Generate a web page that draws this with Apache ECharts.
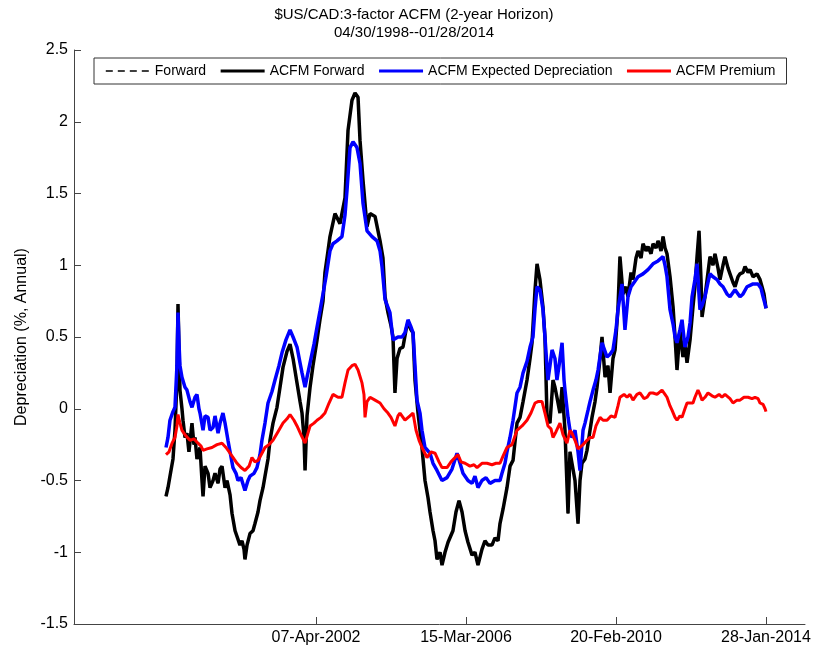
<!DOCTYPE html>
<html>
<head>
<meta charset="utf-8">
<script src="https://cdn.jsdelivr.net/npm/echarts@6/dist/echarts.min.js"></script>
<style>html,body{margin:0;padding:0;background:#fff}#c{width:828px;height:652px}</style>
</head>
<body>
<div id="c"></div>
<script>
// x values: days since 30-Apr-1998
const tickDays = [1438, 2876, 4314, 5752];
const tickLabels = ['07-Apr-2002', '15-Mar-2006', '20-Feb-2010', '28-Jan-2014'];
const seriesNames = ['Forward', 'ACFM Forward', 'ACFM Expected Depreciation', 'ACFM Premium'];

const acfmForward = [
[0,-0.61],[19,-0.55],[38,-0.47],[67,-0.35],[86,-0.15],[105,0.2],[115,0.73],[125,0.4],[134,0.13],[153,0.0],
[163,-0.08],[182,-0.2],[201,-0.17],[220,-0.3],[249,-0.1],[268,-0.25],[278,-0.2],[297,-0.35],[326,-0.27],[345,-0.5],
[355,-0.61],[374,-0.4],[403,-0.45],[422,-0.55],[451,-0.5],[470,-0.45],[499,-0.52],[518,-0.42],[537,-0.4],[566,-0.55],
[585,-0.5],[614,-0.6],[633,-0.73],[662,-0.85],[681,-0.89],[709,-0.95],[729,-0.92],[748,-0.98],[757,-1.05],[777,-0.95],
[805,-0.87],[834,-0.85],[853,-0.8],[882,-0.72],[901,-0.64],[930,-0.55],[949,-0.47],[978,-0.35],[997,-0.22],[1026,-0.1],
[1064,0.01],[1093,0.15],[1122,0.29],[1160,0.4],[1189,0.45],[1218,0.35],[1256,0.18],[1285,0.05],[1304,-0.03],[1323,-0.2],
[1333,-0.43],[1352,-0.05],[1381,0.15],[1409,0.3],[1448,0.48],[1476,0.62],[1505,0.75],[1524,0.95],[1553,1.1],[1572,1.2],
[1620,1.36],[1668,1.29],[1716,1.47],[1745,1.94],[1783,2.15],[1812,2.2],[1841,2.17],[1860,1.87],[1889,1.59],[1927,1.27],
[1956,1.36],[2004,1.34],[2052,1.17],[2080,1.05],[2100,0.78],[2128,0.67],[2157,0.58],[2176,0.5],[2195,0.11],[2215,0.35],
[2243,0.42],[2272,0.43],[2301,0.55],[2320,0.6],[2349,0.55],[2368,0.53],[2387,0.2],[2416,-0.03],[2435,-0.15],[2454,-0.27],
[2483,-0.5],[2512,-0.62],[2531,-0.72],[2560,-0.85],[2579,-0.92],[2598,-1.05],[2627,-1.0],[2646,-1.09],[2675,-1.0],[2704,-0.93],
[2723,-0.92],[2751,-0.85],[2780,-0.72],[2809,-0.64],[2838,-0.72],[2867,-0.85],[2895,-0.93],[2934,-1.02],[2962,-1.0],[2991,-1.09],
[3029,-0.98],[3058,-0.92],[3087,-0.95],[3125,-0.95],[3154,-0.9],[3183,-0.92],[3202,-0.8],[3231,-0.7],[3269,-0.55],[3298,-0.4],
[3327,-0.36],[3365,-0.1],[3394,-0.06],[3423,0.05],[3461,0.2],[3490,0.35],[3509,0.46],[3538,0.83],[3557,1.01],[3585,0.9],
[3614,0.71],[3633,0.5],[3653,-0.06],[3681,-0.1],[3710,0.2],[3729,0.15],[3748,0.08],[3777,-0.03],[3797,0.15],[3825,-0.15],
[3854,-0.73],[3873,-0.3],[3892,-0.38],[3921,-0.5],[3950,-0.8],[3969,-0.5],[3988,-0.38],[4017,-0.35],[4036,-0.29],[4065,-0.15],
[4084,-0.06],[4113,0.05],[4132,0.15],[4161,0.35],[4180,0.5],[4209,0.22],[4237,0.3],[4257,0.11],[4285,0.35],[4305,0.41],
[4333,0.7],[4352,1.06],[4381,0.8],[4410,0.85],[4429,0.78],[4458,0.95],[4477,0.9],[4506,1.05],[4525,1.1],[4554,1.05],
[4573,1.15],[4602,1.1],[4621,1.13],[4650,1.08],[4669,1.15],[4698,1.12],[4717,1.17],[4746,1.1],[4765,1.2],[4784,1.12],
[4803,1.08],[4832,0.92],[4861,0.71],[4880,0.5],[4899,0.27],[4927,0.55],[4956,0.36],[4975,0.45],[4995,0.32],[5024,0.48],
[5052,0.71],[5071,0.85],[5091,1.06],[5110,1.24],[5129,0.9],[5139,0.64],[5167,0.78],[5196,0.95],[5215,1.06],[5244,1.0],
[5263,1.08],[5292,0.98],[5311,0.9],[5340,1.0],[5359,1.06],[5388,0.98],[5407,0.94],[5436,0.88],[5455,0.85],[5484,0.92],
[5503,0.94],[5532,0.95],[5551,0.99],[5580,0.95],[5599,0.97],[5628,0.92],[5666,0.94],[5695,0.9],[5714,0.85],[5733,0.8],
[5752,0.7]
];

const expectedDepreciation = [
[0,-0.27],[19,-0.2],[38,-0.08],[67,-0.02],[86,0.01],[105,0.3],[115,0.67],[125,0.45],[134,0.3],[153,0.22],
[182,0.15],[201,0.13],[230,0.05],[249,0.01],[278,0.08],[297,0.1],[316,0.0],[326,-0.03],[355,-0.15],[374,-0.05],
[403,-0.06],[422,-0.15],[451,-0.13],[470,-0.05],[499,-0.17],[518,-0.1],[546,-0.03],[566,-0.1],[594,-0.22],[614,-0.3],
[642,-0.41],[671,-0.45],[690,-0.5],[719,-0.48],[757,-0.57],[786,-0.5],[805,-0.47],[844,-0.45],[872,-0.41],[901,-0.32],
[920,-0.22],[949,-0.1],[978,0.04],[1016,0.12],[1045,0.2],[1083,0.3],[1112,0.39],[1150,0.48],[1189,0.55],[1218,0.5],
[1256,0.43],[1285,0.32],[1304,0.25],[1333,0.15],[1352,0.22],[1381,0.32],[1419,0.45],[1448,0.57],[1476,0.68],[1505,0.8],
[1534,0.92],[1572,1.1],[1601,1.15],[1639,1.17],[1687,1.2],[1716,1.35],[1735,1.52],[1764,1.82],[1793,1.86],[1831,1.82],
[1860,1.71],[1889,1.43],[1927,1.24],[1975,1.2],[2023,1.17],[2052,1.1],[2071,0.99],[2100,0.76],[2147,0.67],[2176,0.48],
[2224,0.5],[2263,0.5],[2291,0.53],[2320,0.62],[2349,0.57],[2368,0.53],[2387,0.3],[2406,0.06],[2435,-0.03],[2454,-0.15],
[2483,-0.27],[2531,-0.31],[2560,-0.38],[2598,-0.43],[2646,-0.5],[2694,-0.48],[2742,-0.42],[2790,-0.31],[2819,-0.38],[2847,-0.45],
[2895,-0.5],[2934,-0.52],[2962,-0.47],[2991,-0.55],[3029,-0.5],[3068,-0.48],[3106,-0.52],[3154,-0.5],[3202,-0.5],[3221,-0.45],
[3250,-0.38],[3269,-0.3],[3298,-0.2],[3327,-0.08],[3365,0.11],[3394,0.15],[3423,0.25],[3461,0.33],[3490,0.43],[3518,0.5],
[3538,0.7],[3557,0.85],[3585,0.83],[3614,0.69],[3633,0.5],[3653,0.29],[3662,0.2],[3681,0.3],[3701,0.41],[3729,0.35],
[3748,0.2],[3768,0.3],[3797,0.46],[3816,0.2],[3825,0.13],[3854,-0.06],[3873,-0.15],[3892,-0.2],[3921,-0.15],[3950,-0.3],
[3969,-0.43],[3998,-0.15],[4017,-0.1],[4046,-0.01],[4065,0.05],[4094,0.13],[4122,0.2],[4142,0.27],[4180,0.46],[4209,0.4],
[4228,0.36],[4257,0.38],[4285,0.41],[4314,0.55],[4333,0.69],[4372,0.87],[4400,0.55],[4429,0.78],[4458,0.85],[4477,0.87],
[4525,0.92],[4573,0.94],[4621,0.97],[4669,1.01],[4717,1.03],[4765,1.06],[4784,1.0],[4803,0.92],[4832,0.69],[4861,0.59],
[4880,0.5],[4899,0.46],[4927,0.55],[4947,0.62],[4975,0.43],[5004,0.5],[5024,0.6],[5043,0.78],[5071,0.9],[5091,1.01],
[5119,0.69],[5139,0.72],[5167,0.78],[5196,0.88],[5215,0.94],[5244,0.92],[5282,0.9],[5311,0.87],[5340,0.85],[5378,0.8],
[5407,0.78],[5455,0.83],[5503,0.78],[5532,0.8],[5570,0.85],[5599,0.86],[5628,0.87],[5676,0.87],[5704,0.84],[5724,0.78],
[5743,0.73],[5752,0.7]
];

const premium = [
[0,-0.32],[29,-0.3],[58,-0.24],[86,-0.2],[105,-0.12],[115,-0.04],[134,-0.1],[153,-0.15],[192,-0.19],[230,-0.22],
[268,-0.21],[307,-0.24],[336,-0.26],[355,-0.29],[393,-0.28],[441,-0.27],[489,-0.25],[537,-0.24],[575,-0.27],[614,-0.31],
[652,-0.35],[681,-0.38],[719,-0.41],[757,-0.43],[796,-0.4],[824,-0.34],[853,-0.37],[882,-0.36],[920,-0.31],[949,-0.27],
[987,-0.25],[1026,-0.22],[1074,-0.16],[1122,-0.1],[1160,-0.07],[1189,-0.04],[1227,-0.08],[1256,-0.12],[1294,-0.18],[1333,-0.24],
[1361,-0.17],[1381,-0.12],[1419,-0.1],[1448,-0.08],[1486,-0.06],[1524,-0.03],[1563,0.04],[1601,0.1],[1649,0.08],[1687,0.08],
[1716,0.18],[1745,0.27],[1783,0.3],[1812,0.31],[1841,0.27],[1879,0.18],[1898,0.1],[1908,-0.06],[1927,0.05],[1956,0.08],
[2004,0.06],[2052,0.04],[2090,0.0],[2128,-0.03],[2157,-0.06],[2195,-0.12],[2224,-0.05],[2243,-0.03],[2291,-0.08],[2339,-0.05],
[2368,-0.03],[2397,-0.15],[2426,-0.22],[2454,-0.27],[2502,-0.34],[2541,-0.3],[2579,-0.31],[2617,-0.37],[2646,-0.41],[2694,-0.41],
[2732,-0.37],[2771,-0.34],[2799,-0.32],[2828,-0.37],[2867,-0.38],[2914,-0.4],[2953,-0.39],[2982,-0.41],[3029,-0.38],[3077,-0.38],
[3125,-0.39],[3164,-0.38],[3202,-0.38],[3231,-0.33],[3269,-0.27],[3317,-0.25],[3365,-0.15],[3413,-0.12],[3461,-0.08],[3499,-0.03],
[3538,0.04],[3566,0.05],[3605,0.05],[3633,-0.03],[3662,-0.12],[3691,-0.14],[3710,-0.2],[3739,-0.16],[3777,-0.1],[3806,-0.18],
[3844,-0.24],[3873,-0.15],[3892,-0.17],[3921,-0.22],[3950,-0.28],[3969,-0.29],[3998,-0.25],[4036,-0.22],[4065,-0.2],[4094,-0.2],
[4122,-0.12],[4161,-0.06],[4190,-0.08],[4228,-0.08],[4266,-0.05],[4305,-0.06],[4333,0.02],[4352,0.08],[4391,0.1],[4420,0.08],
[4448,0.1],[4477,0.06],[4515,0.1],[4544,0.11],[4583,0.07],[4611,0.08],[4640,0.11],[4669,0.11],[4707,0.1],[4755,0.13],
[4784,0.1],[4803,0.08],[4832,0.02],[4851,-0.01],[4880,-0.06],[4899,-0.08],[4927,-0.05],[4947,-0.06],[4975,0.0],[4995,0.04],
[5024,0.04],[5052,0.04],[5071,0.08],[5100,0.13],[5119,0.1],[5139,0.06],[5167,0.08],[5196,0.11],[5235,0.09],[5263,0.08],
[5302,0.1],[5330,0.08],[5359,0.1],[5378,0.11],[5407,0.07],[5436,0.04],[5474,0.06],[5503,0.06],[5541,0.08],[5580,0.08],
[5618,0.07],[5647,0.08],[5676,0.07],[5695,0.04],[5724,0.03],[5743,0.0],[5752,-0.02]
];

const FONT = '"Liberation Sans", Arial, sans-serif';
const chart = echarts.init(document.getElementById('c'), null, {renderer: 'canvas'});
chart.setOption({
  animation: false,
  backgroundColor: '#fff',
  title: {
    text: '$US/CAD:3-factor ACFM (2-year Horizon)\n04/30/1998--01/28/2014',
    left: 'center', top: 1,
    textStyle: {fontFamily: FONT, fontSize: 15, fontWeight: 'normal', color: '#000', lineHeight: 18}
  },
  legend: {
    left: 94, top: 58,
    padding: [6, 11],
    itemWidth: 44, itemHeight: 14, itemGap: 13,
    borderColor: '#333', borderWidth: 1, backgroundColor: '#fff',
    itemStyle: {opacity: 0},
    textStyle: {fontFamily: FONT, fontSize: 14, color: '#000'},
    data: [
      {name: seriesNames[0], lineStyle: {width: 1.6, color: '#000', type: [7, 5]}},
      {name: seriesNames[1], lineStyle: {width: 3}},
      {name: seriesNames[2], lineStyle: {width: 3}},
      {name: seriesNames[3], lineStyle: {width: 3}}
    ]
  },
  grid: {left: 74, right: 23, top: 50, bottom: 28},
  xAxis: {
    type: 'value', min: -882, max: 6126,
    axisLine: {onZero: false, lineStyle: {color: '#444', width: 1}},
    axisTick: {inside: true, length: 7, customValues: tickDays, lineStyle: {color: '#444'}},
    axisLabel: {customValues: tickDays, margin: 6, fontFamily: FONT, fontSize: 16, color: '#000',
      formatter: v => tickLabels[tickDays.indexOf(v)] || ''},
    splitLine: {show: false}
  },
  yAxis: {
    type: 'value', min: -1.5, max: 2.5, interval: 0.5,
    name: 'Depreciation (%, Annual)', nameLocation: 'middle', nameGap: 40,
    nameTextStyle: {fontFamily: FONT, fontSize: 16, color: '#000'},
    axisLine: {show: true, onZero: false, lineStyle: {color: '#444', width: 1}},
    axisTick: {show: true, inside: true, length: 7, lineStyle: {color: '#444'}},
    axisLabel: {margin: 6, fontFamily: FONT, fontSize: 16, color: '#000'},
    splitLine: {show: false}
  },
  series: [
    {name: seriesNames[0], type: 'line', data: acfmForward, symbol: 'none', color: '#000',
     lineStyle: {color: '#000', width: 1, type: [7, 5]}, z: 1},
    {name: seriesNames[1], type: 'line', data: acfmForward, symbol: 'none', color: '#000',
     lineStyle: {color: '#000', width: 3.5}, z: 2},
    {name: seriesNames[2], type: 'line', data: expectedDepreciation, symbol: 'none', color: '#0000ff',
     lineStyle: {color: '#0000ff', width: 3.5}, z: 3},
    {name: seriesNames[3], type: 'line', data: premium, symbol: 'none', color: '#ff0000',
     lineStyle: {color: '#ff0000', width: 3}, z: 4}
  ]
});
</script>
</body>
</html>
